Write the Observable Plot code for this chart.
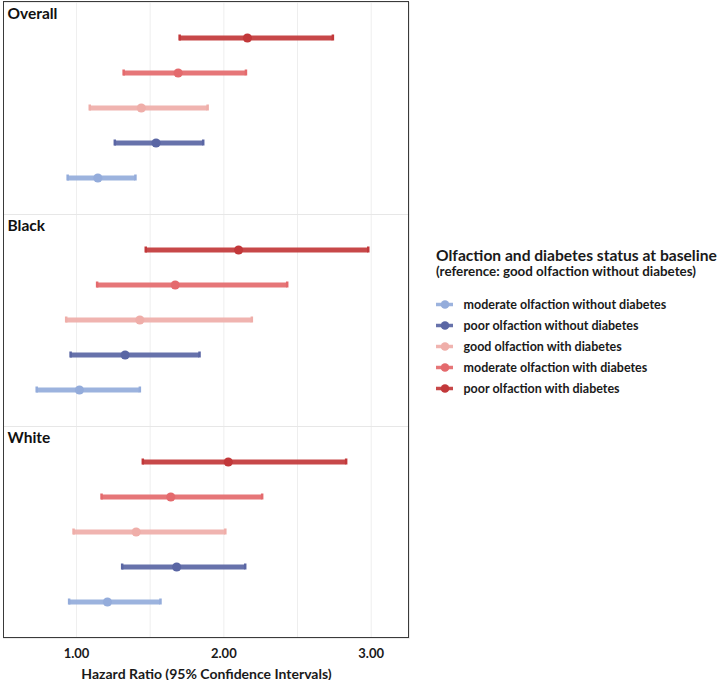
<!DOCTYPE html>
<html>
<head>
<meta charset="utf-8">
<script src="https://cdn.jsdelivr.net/npm/d3@7"></script>
<script src="https://cdn.jsdelivr.net/npm/@observablehq/plot@0.6"></script>
<style>
  html, body { margin: 0; padding: 0; background: #fff; }
  #wrap { position: relative; width: 722px; height: 680px; overflow: hidden; font-family: Lato, "Open Sans", sans-serif; color: #1a1a1a; }
  #main { position: absolute; left: 0; top: 0; }
  #border { position: absolute; left: 3px; top: 1px; width: 406px; height: 637px; border: 1.3px solid #3a3a3a; box-sizing: border-box; pointer-events: none; }
  .lt { position: absolute; left: 436px; white-space: nowrap; font-weight: bold; line-height: 1; }
  #ltitle { top: 248px; font-size: 15.6px; }
  #lsub { top: 265px; font-size: 13.4px; }
  #legend { position: absolute; left: 426px; top: 290px; }
</style>
</head>
<body>
<div id="wrap">
  <div id="main"></div>
  <div id="border"></div>
  <div class="lt" id="ltitle">Olfaction and diabetes status at baseline</div>
  <div class="lt" id="lsub">(reference: good olfaction without diabetes)</div>
  <div id="legend"></div>
</div>
<script>
const groups = ["Overall", "Black", "White"];
const categories = [
  "moderate olfaction without diabetes",
  "poor olfaction without diabetes",
  "good olfaction with diabetes",
  "moderate olfaction with diabetes",
  "poor olfaction with diabetes"
];
const colors = ["#94acdb", "#5a66a4", "#efaea9", "#e46a6d", "#c2383a"];

const overallHR = [1.145, 1.54, 1.44, 1.69, 2.16];
const overallLo = [0.94, 1.26, 1.09, 1.32, 1.70];
const overallHi = [1.40, 1.86, 1.89, 2.15, 2.74];

const blackHR = [1.02, 1.33, 1.43, 1.67, 2.10];
const blackLo = [0.73, 0.96, 0.93, 1.14, 1.47];
const blackHi = [1.43, 1.835, 2.19, 2.43, 2.98];

const whiteHR = [1.21, 1.68, 1.405, 1.64, 2.03];
const whiteLo = [0.95, 1.31, 0.98, 1.17, 1.45];
const whiteHi = [1.57, 2.145, 2.01, 2.26, 2.83];

const gridTicks = [1, 1.5, 2, 2.5, 3];
const axisTicks = [1, 2, 3];

const series = {
  Overall: [overallHR, overallLo, overallHi],
  Black: [blackHR, blackLo, blackHi],
  White: [whiteHR, whiteLo, whiteHi]
};
const rows = [];
for (const g of groups) {
  const [hr, lo, hi] = series[g];
  categories.forEach((c, i) => rows.push({group: g, cat: c, hr: hr[i], lo: lo[i], hi: hi[i], color: colors[i]}));
}
const topDown = categories.slice().reverse();

const main = Plot.plot({
  width: 722,
  height: 680,
  marginLeft: 3,
  marginRight: 313,
  marginTop: 1,
  marginBottom: 42,
  style: {fontFamily: "Lato, 'Open Sans', sans-serif", color: "#1a1a1a", background: "transparent"},
  x: {domain: [0.5046, 3.26]},
  y: {type: "band", domain: topDown, axis: null, padding: 0, insetTop: 16, insetBottom: 17.7},
  fy: {domain: groups, axis: null, padding: 0},
  marks: [
    Plot.gridX({ticks: gridTicks, stroke: "#e6e6e6", strokeOpacity: 1, strokeWidth: 0.7}),
    Plot.frame({stroke: "#e6e6e6", strokeWidth: 0.8}),
    Plot.ruleY(rows, {fy: "group", y: "cat", x1: "lo", x2: "hi", stroke: "color", strokeWidth: 4.8, strokeOpacity: 0.92}),
    Plot.tickX(rows, {fy: "group", y: "cat", x: "lo", stroke: "color", strokeWidth: 2.5, insetTop: 14.5, insetBottom: 14.5}),
    Plot.tickX(rows, {fy: "group", y: "cat", x: "hi", stroke: "color", strokeWidth: 2.5, insetTop: 14.5, insetBottom: 14.5}),
    Plot.dot(rows, {fy: "group", y: "cat", x: "hr", fill: "color", r: 4.6}),
    Plot.text(groups, {fy: d => d, text: d => d, frameAnchor: "top-left", dx: 4, dy: 5, lineAnchor: "top", fontSize: 15.5, fontWeight: "bold", fill: "#111"}),
    Plot.axisX({ticks: axisTicks, tickSize: 0, tickPadding: 10, tickFormat: d => d.toFixed(2), fontSize: 13, fontWeight: "bold", label: null}),
    Plot.axisX({ticks: [], tickSize: 0, fontSize: 14, fontWeight: "bold", label: "Hazard Ratio (95% Confidence Intervals)", labelAnchor: "center", labelArrow: "none", labelOffset: 40})
  ]
});
document.getElementById("main").appendChild(main);

const legend = Plot.plot({
  width: 296,
  height: 112,
  marginLeft: 0,
  marginRight: 0,
  marginTop: 12.7,
  marginBottom: 13,
  style: {fontFamily: "Lato, 'Open Sans', sans-serif", color: "#1a1a1a", background: "transparent"},
  x: {type: "band", domain: ["key"], range: [10, 27], padding: 0, axis: null},
  y: {type: "point", domain: categories, padding: 0, axis: null},
  marks: [
    Plot.tickY(categories, {x: () => "key", y: d => d, stroke: (d, i) => colors[i], strokeWidth: 3.5, strokeOpacity: 0.92}),
    Plot.dot(categories, {x: () => "key", y: d => d, fill: (d, i) => colors[i], r: 4.3}),
    Plot.text(categories, {x: () => "key", y: d => d, text: d => d, dx: 18.5, textAnchor: "start", fontSize: 12.5, fontWeight: "bold", fill: "#1a1a1a"})
  ]
});
document.getElementById("legend").appendChild(legend);
</script>
</body>
</html>
